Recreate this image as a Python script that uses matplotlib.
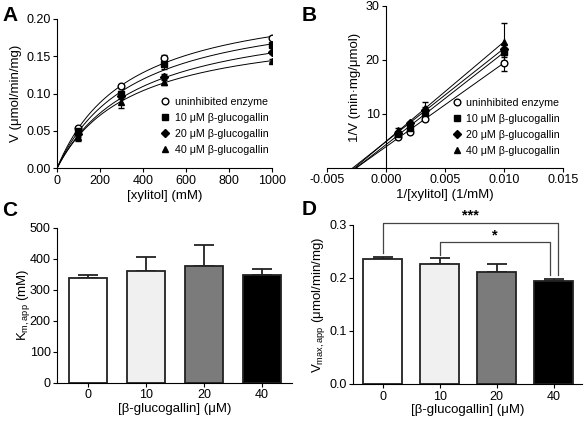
import matplotlib
matplotlib.use("Agg")
import matplotlib.pyplot as plt
import numpy as np

plt.rcParams["font.family"] = ["Liberation Sans", "DejaVu Sans"]
plt.rcParams["mathtext.fontset"] = "custom"
plt.rcParams["mathtext.rm"] = "Liberation Sans"
plt.rcParams["mathtext.it"] = "Liberation Sans:italic"
plt.rcParams["axes.linewidth"] = 0.8
plt.rcParams["xtick.major.width"] = 0.8
plt.rcParams["ytick.major.width"] = 0.8
plt.rcParams["xtick.major.size"] = 3
plt.rcParams["ytick.major.size"] = 3
plt.rcParams["xtick.major.pad"] = 2
plt.rcParams["ytick.major.pad"] = 1.5

# ---- data ----
series_labels = ["uninhibited enzyme", "10 \u03bcM \u03b2-glucogallin",
                 "20 \u03bcM \u03b2-glucogallin", "40 \u03bcM \u03b2-glucogallin"]
markers = ["o", "s", "D", "^"]

xylitol = [100, 300, 500, 1000]
v_uninh = [0.0535, 0.110, 0.147, 0.1746]
v_10 = [0.050, 0.100, 0.139, 0.165]
v_20 = [0.046, 0.096, 0.122, 0.155]
v_40 = [0.042, 0.089, 0.116, 0.144]
v_err_uninh = [0.002, 0.002, 0.005, 0.002]
v_err_10 = [0.003, 0.003, 0.006, 0.003]
v_err_20 = [0.004, 0.004, 0.004, 0.002]
v_err_40 = [0.006, 0.008, 0.005, 0.002]

inv_xylitol = [0.001, 0.002, 0.00333, 0.010]
inv_v_uninh = [5.8, 6.7, 9.1, 19.5]
inv_v_10 = [6.2, 7.4, 10.2, 21.4]
inv_v_20 = [6.5, 8.3, 10.8, 22.1]
inv_v_40 = [7.1, 8.2, 11.1, 23.4]
inv_err_uninh = [0.2, 0.3, 0.3, 1.5]
inv_err_10 = [0.2, 0.3, 0.5, 0.8]
inv_err_20 = [0.2, 0.3, 0.5, 0.8]
inv_err_40 = [0.3, 0.3, 1.1, 3.5]

inhibitor = ["0", "10", "20", "40"]
km_app = [338, 359, 375, 348]
km_err = [8, 46, 68, 18]
vmax_app = [0.236, 0.226, 0.212, 0.194]
vmax_err = [0.003, 0.012, 0.015, 0.004]
bar_colors = ["white", "#f0f0f0", "#7b7b7b", "black"]

v_all = [v_uninh, v_10, v_20, v_40]
v_err_all = [v_err_uninh, v_err_10, v_err_20, v_err_40]
inv_all = [inv_v_uninh, inv_v_10, inv_v_20, inv_v_40]
inv_err_all = [inv_err_uninh, inv_err_10, inv_err_20, inv_err_40]

fig = plt.figure(figsize=(5.85, 4.21), dpi=100)
axA = fig.add_axes([0.0974, 0.6002, 0.3675, 0.3554])
axB = fig.add_axes([0.559, 0.601, 0.4034, 0.3848])
axC = fig.add_axes([0.0974, 0.0914, 0.4017, 0.368])
axD = fig.add_axes([0.603, 0.0879, 0.392, 0.3777])

for ax in (axA, axB, axC, axD):
    ax.spines["top"].set_visible(False)
    ax.spines["right"].set_visible(False)
    ax.tick_params(labelsize=9, direction="out", color="black")

legend_kw = dict(frameon=False, fontsize=7.7, handlelength=0.8, handletextpad=0.5,
                 labelspacing=0.55, borderpad=0.2)

# ---- A: Michaelis-Menten ----
xs = np.linspace(0, 1000, 200)
for i in range(4):
    axA.plot(xs, vmax_app[i] * xs / (km_app[i] + xs), color="black", lw=0.7)
    mfc = "white" if markers[i] == "o" else "black"
    ms = 4.2 if markers[i] == "D" else 4.8
    axA.errorbar(xylitol, v_all[i], yerr=v_err_all[i], fmt=markers[i], color="black",
                 mfc=mfc, mec="black", ms=ms, mew=1.0, elinewidth=0.8, capsize=2.5,
                 capthick=0.8, label=series_labels[i])
axA.set_xlim(0, 1000)
axA.set_ylim(0, 0.20)
axA.set_xticks([0, 200, 400, 600, 800, 1000])
axA.set_yticks([0, 0.05, 0.10, 0.15, 0.20])
axA.set_yticklabels(["0.00", "0.05", "0.10", "0.15", "0.20"])
axA.set_xlabel("[xylitol] (mM)", fontsize=9.5)
axA.set_ylabel("V (\u03bcmol/min/mg)", fontsize=9.5)
axA.xaxis.set_label_coords(0.5, -0.148)
axA.yaxis.set_label_coords(-0.165, 0.5)
hA, lA = axA.get_legend_handles_labels()
hA = [h[0] for h in hA]
axA.legend(hA, lA, loc="lower right", bbox_to_anchor=(1.02, 0.04), **legend_kw)

# ---- B: Lineweaver-Burk ----
for i in range(4):
    slope, icpt = np.polyfit(inv_xylitol, inv_all[i], 1)
    x0 = -icpt / slope
    lx = np.array([x0, 0.010])
    axB.plot(lx, slope * lx + icpt, color="black", lw=0.7)
    mfc = "white" if markers[i] == "o" else "black"
    ms = 4.2 if markers[i] == "D" else 4.8
    axB.errorbar(inv_xylitol, inv_all[i], yerr=inv_err_all[i], fmt=markers[i],
                 color="black", mfc=mfc, mec="black", ms=ms, mew=1.0, elinewidth=0.8,
                 capsize=2.5, capthick=0.8, label=series_labels[i])
axB.set_xlim(-0.005, 0.015)
axB.set_ylim(0, 30)
axB.spines["left"].set_position(("data", 0))
axB.set_xticks([-0.005, 0, 0.005, 0.010, 0.015])
axB.set_xticklabels(["-0.005", "0.000", "0.005", "0.010", "0.015"])
axB.set_yticks([10, 20, 30])
axB.tick_params(axis="x", pad=1)
axB.set_xlabel("1/[xylitol] (1/mM)", fontsize=9.5)
axB.set_ylabel("1/V (min\u00b7mg/\u03bcmol)", fontsize=9.5)
axB.xaxis.set_label_coords(0.5, -0.128)
axB.yaxis.set_label_coords(0.146, 0.5)
hB, lB = axB.get_legend_handles_labels()
hB = [h[0] for h in hB]
axB.legend(hB, lB, loc="lower right", bbox_to_anchor=(1.02, 0.03), **legend_kw)

# ---- C: Km,app bars ----
pos = np.arange(len(inhibitor))
axC.bar(pos, km_app, width=0.67, color=bar_colors, edgecolor="#222222", lw=1.3, zorder=2)
axC.errorbar(pos, km_app, yerr=[[0] * 4, km_err], fmt="none", ecolor="#222222",
             elinewidth=1.3, capsize=7.5, capthick=1.3, zorder=1)
axC.set_xlim(-0.534, 3.517)
axC.set_ylim(0, 500)
axC.set_xticks(pos)
axC.set_xticklabels(inhibitor)
axC.set_yticks([0, 100, 200, 300, 400, 500])
axC.set_xlabel("[\u03b2-glucogallin] (\u03bcM)", fontsize=9.5)
axC.set_ylabel(r"K$_{\mathrm{m,app}}$ (mM)", fontsize=9.5)
axC.xaxis.set_label_coords(0.5, -0.135)
axC.yaxis.set_label_coords(-0.108, 0.5)

# ---- D: Vmax,app bars ----
axD.bar(pos, vmax_app, width=0.68, color=bar_colors, edgecolor="#222222", lw=1.3, zorder=2)
axD.errorbar(pos, vmax_app, yerr=[[0] * 4, vmax_err], fmt="none", ecolor="#222222",
             elinewidth=1.3, capsize=7.5, capthick=1.3, zorder=1)
axD.set_xlim(-0.523, 3.5)
axD.set_ylim(0, 0.3)
axD.set_xticks(pos)
axD.set_xticklabels(inhibitor)
axD.set_yticks([0, 0.1, 0.2, 0.3])
axD.set_yticklabels(["0.0", "0.1", "0.2", "0.3"])
axD.set_xlabel("[\u03b2-glucogallin] (\u03bcM)", fontsize=9.5)
axD.set_ylabel(r"V$_{\mathrm{max,app}}$ ($\mathrm{\mu}$mol/min/mg)", fontsize=9.5)
axD.xaxis.set_label_coords(0.5, -0.123)
axD.yaxis.set_label_coords(-0.113, 0.5)

# significance brackets
def bracket(ax, x1, x2, y_top, y1, y2, text, ty):
    ax.plot([x1, x1, x2, x2], [y1, y_top, y_top, y2], color="#444444", lw=0.9,
            clip_on=False)
    ax.text((x1 + x2) / 2, ty, text, ha="center", va="center", fontsize=10.5,
            fontweight="bold", clip_on=False)

bracket(axD, pos[0], pos[3] + 0.08, 0.304, 0.247, 0.206, "***", 0.318)
bracket(axD, pos[1], pos[3] - 0.07, 0.267, 0.243, 0.206, "*", 0.280)

# panel letters
for lbl, x, y in [("A", 0.004, 0.964), ("B", 0.515, 0.964), ("C", 0.004, 0.501),
                  ("D", 0.516, 0.503)]:
    fig.text(x, y, lbl, fontsize=15, fontweight="bold", va="center", ha="left")

fig.savefig("out.png", dpi=100)
